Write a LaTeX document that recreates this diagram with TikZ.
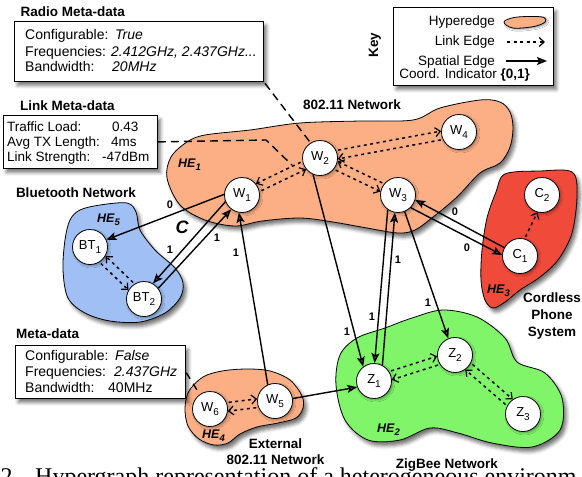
\documentclass[tikz,border=0pt]{standalone}
\usepackage{fontspec}
\setmainfont{Liberation Sans}
\newfontfamily\capfont{Liberation Serif}
\usetikzlibrary{arrows.meta,shadows.blur}
\definecolor{heA}{RGB}{252,174,133}
\definecolor{heB}{RGB}{160,192,245}
\definecolor{heC}{RGB}{240,74,58}
\definecolor{heD}{RGB}{128,245,106}
\newcommand\sbs[1]{\raisebox{-0.32em}{\fontsize{10}{10}\selectfont #1}}
\newcommand\hesub[1]{\raisebox{-0.3em}{\fontsize{9.5}{10}\selectfont #1}}
\newcommand\pairR[3]{%
  \pgfmathtruncatemacro\angA{#3-14}\pgfmathtruncatemacro\angB{#3+194}%
  \draw[link] (#1.\angA) -- (#2.\angB);
  \pgfmathtruncatemacro\angA{#3+14}\pgfmathtruncatemacro\angB{#3+166}%
  \draw[link] (#2.\angB) -- (#1.\angA);}
\newcommand\pairL[3]{%
  \pgfmathtruncatemacro\angA{#3+14}\pgfmathtruncatemacro\angB{#3+166}%
  \draw[link] (#1.\angA) -- (#2.\angB);
  \pgfmathtruncatemacro\angA{#3-14}\pgfmathtruncatemacro\angB{#3+194}%
  \draw[link] (#2.\angB) -- (#1.\angA);}
\tikzset{
  nd/.style={circle,draw,line width=0.8pt,fill=white,minimum size=35pt,inner sep=0pt,
    font=\fontsize{13}{13}\selectfont,
    blur shadow={shadow xshift=1.5pt,shadow yshift=-1.5pt,shadow blur radius=2pt,shadow opacity=35}},
  blob/.style={draw,line width=0.8pt,
    blur shadow={shadow xshift=3pt,shadow yshift=-4pt,shadow blur radius=3.5pt,shadow opacity=55}},
  sp/.style={line width=1.4pt,-{Stealth[length=10pt,width=8pt,inset=2pt]}},
  link/.style={line width=1.5pt,dash pattern=on 3pt off 3.5pt,shorten <=2pt,
    -{Straight Barb[length=5pt,width=9pt,line width=1.2pt]}},
  dline/.style={line width=1.4pt,dash pattern=on 8pt off 5pt},
  box/.style={draw,line width=0.8pt,fill=white,inner sep=0pt,
    blur shadow={shadow xshift=3pt,shadow yshift=-4pt,shadow blur radius=3.5pt,shadow opacity=55}},
  lab/.style={font=\bfseries\fontsize{13.5}{14}\selectfont,inner sep=0pt},
  txt/.style={font=\fontsize{14}{14}\selectfont,inner sep=0pt,anchor=base west},
  stxt/.style={font=\fontsize{13.5}{14}\selectfont,inner sep=0pt,anchor=base west},
  ktxt/.style={font=\fontsize{13.5}{14}\selectfont,inner sep=0pt,anchor=base east},
  num/.style={font=\bfseries\fontsize{11}{11}\selectfont,inner sep=0pt},
  helab/.style={font=\bfseries\itshape\fontsize{12.5}{13}\selectfont,inner sep=0pt,anchor=base west},
  captxt/.style={anchor=base west,inner sep=0pt,font=\capfont\fontsize{24}{24}\selectfont}
}
\begin{document}
\begin{tikzpicture}[x=1pt,y=-1pt]
\useasboundingbox (0,0) rectangle (582,477);
\clip (0,0) rectangle (582,477);

% hyperedges
\path[blob,fill=heA] plot[smooth cycle,tension=0.55] coordinates {(167,178) (171,157) (187,142) (205,135) (250,130) (300,123) (360,121) (413,120) (440,108) (480,100) (500,102) (510,112) (513,128) (510,147) (500,163) (480,173) (457,197) (433,217) (415,230) (398,233) (367,228) (333,222) (300,218) (262,221) (235,226) (205,220) (180,205)};
\path[blob,fill=heB] plot[smooth cycle,tension=0.55] coordinates {(80,210) (100,205) (127,203) (136,212) (140,230) (155,250) (175,268) (183,283) (180,298) (165,313) (140,322) (110,321) (85,313) (68,298) (63,270) (65,240) (70,220)};
\path[blob,fill=heC] plot[smooth cycle,tension=0.55] coordinates {(505,174) (540,171) (572,172) (577,195) (572,233) (558,260) (540,277) (520,290) (505,302) (493,308) (485,300) (481,280) (482,250) (487,218) (496,192)};
\path[blob,fill=heD] plot[smooth cycle,tension=0.55] coordinates {(443,310) (477,317) (505,338) (517,362) (545,373) (562,398) (560,430) (532,447) (492,443) (458,433) (430,428) (400,440) (368,440) (345,420) (336,385) (340,355) (357,338) (385,328) (412,318)};
\path[blob,fill=heA] plot[smooth cycle,tension=0.55] coordinates {(203,377) (222,371) (247,369) (270,371) (290,380) (302,396) (303,408) (296,418) (278,423) (257,427) (240,434) (228,443) (214,445) (199,439) (188,426) (185,408) (189,391)};

% hyperedge labels
\node[helab] (he1) at (178,167) {HE\hesub{1}};
\node[helab] (he5) at (97,222) {HE\hesub{5}};
\node[helab] (he3) at (487,293) {HE\hesub{3}};
\node[helab] (he2) at (377,432) {HE\hesub{2}};
\node[helab] (he4) at (202,438) {HE\hesub{4}};

% nodes
\node[nd] (W1) at (242,195) {W\sbs{1}};
\node[nd] (W2) at (320,158) {W\sbs{2}};
\node[nd] (W3) at (398,195) {W\sbs{3}};
\node[nd] (W4) at (459,132) {W\sbs{4}};
\node[nd] (BT1) at (90,247) {BT\sbs{1}};
\node[nd] (BT2) at (144,299) {BT\sbs{2}};
\node[nd] (C1) at (520,256) {C\sbs{1}};
\node[nd] (C2) at (542,195) {C\sbs{2}};
\node[nd] (W5) at (275,401) {W\sbs{5}};
\node[nd] (W6) at (210,409) {W\sbs{6}};
\node[nd] (Z1) at (374,381) {Z\sbs{1}};
\node[nd] (Z2) at (455,355) {Z\sbs{2}};
\node[nd] (Z3) at (523,414) {Z\sbs{3}};

% link edges
\pairR{W1}{W2}{25}
\pairR{W2}{W3}{-25}
\pairL{W2}{W4}{11}
\pairR{BT1}{BT2}{-44}
\pairL{W6}{W5}{7}
\pairL{Z1}{Z2}{18}
\pairL{Z2}{Z3}{-41}
\draw[link] (C1.75) -- (C2.-105);

% spatial edges
\draw[sp] (W1.178) -- (BT1.24);
\draw[sp] (W1.202) -- (BT2.60);
\draw[sp] (BT2.37) -- (W1.233);
\draw[sp] (W5.114) -- (W1.-100);
\draw[sp] (W2.-113) -- (Z1.127);
\draw[sp] (W3.-125) -- (Z1.88);
\draw[sp] (Z1.62) -- (W3.-100);
\draw[sp] (W3.-68) -- (Z2.112);
\draw[sp] (C1.152) -- (W3.-16);
\draw[sp] (W3.-45) -- (C1.177);
\draw[sp] (W5.8) -- (Z1.200);

% coordination indicators
\node[num] (n1) at (170,205) {0};
\node[num] (n2) at (170,250) {1};
\node[num] (n3) at (217,238) {1};
\node[num] (n4) at (236,253) {1};
\node[num] (n5) at (347,332) {1};
\node[num] (n6) at (372,317) {1};
\node[num] (n7) at (398,260) {1};
\node[num] (n8) at (428,303) {1};
\node[num] (n9) at (455,212) {0};
\node[num] (n10) at (467,248) {0};
\node[font=\bfseries\itshape\fontsize{18}{18}\selectfont,inner sep=0pt] (cl) at (182,227) {C};

% network labels
\node[lab,anchor=base] (net1) at (352,109) {802.11 Network};
\node[lab,anchor=base] (net2) at (76,197) {Bluetooth Network};
\node[lab,anchor=base] (net3a) at (275.5,448.5) {External};
\node[lab,anchor=base] (net3b) at (275.5,464.5) {802.11 Network};
\node[lab,anchor=base] (net4) at (447,468) {ZigBee Network};
\node[lab,anchor=base] (net5a) at (552,302) {Cordless};
\node[lab,anchor=base] (net5b) at (552,319) {Phone};
\node[lab,anchor=base] (net5c) at (552,336) {System};

% radio meta-data box
\node[lab,anchor=base west] (radiot) at (20.5,16) {Radio Meta-data};
\node[box,minimum width=249pt,minimum height=60pt,anchor=north west] (radio) at (14,21) {};
\node[txt] (r1) at (25,39.5) {Configurable:};
\node[txt] (r1v) at (115,39.5) {\itshape True};
\node[txt] (r2) at (25,56.5) {Frequencies:};
\node[txt] (r2v) at (111,56.5) {\itshape 2.412GHz, 2.437GHz...};
\node[txt] (r3) at (25,71.5) {Bandwidth:};
\node[txt] (r3v) at (112,71.5) {\itshape 20MHz};
\draw[dline,shorten <=2pt] (radio.south east) -- (W2.122);

% link meta-data box
\node[lab,anchor=base west] (linkt) at (20,110) {Link Meta-data};
\node[box,minimum width=154pt,minimum height=53pt,anchor=north west] (link) at (3,115) {};
\node[stxt] (l1) at (7,131) {Traffic Load:};
\node[stxt] (l1v) at (112,131) {0.43};
\node[stxt] (l2) at (7,146.5) {Avg TX Length:};
\node[stxt] (l2v) at (111,146.5) {4ms};
\node[stxt] (l3) at (7,161) {Link Strength:};
\node[stxt] (l3v) at (102,161) {-47dBm};
\coordinate (lkb) at (266,140);
\coordinate (lke) at (292,165);
\draw[dline] (link.east) -- (lkb) -- (lke);

% meta-data box (external)
\node[lab,anchor=base west] (metat) at (16,338.5) {Meta-data};
\node[box,minimum width=170pt,minimum height=53pt,anchor=north west] (meta) at (15,345) {};
\node[txt] (m1) at (25,360) {Configurable:};
\node[txt] (m1v) at (115,360) {\itshape False};
\node[txt] (m2) at (25,376) {Frequencies:};
\node[txt] (m2v) at (114,376) {\itshape 2.437GHz};
\node[txt] (m3) at (25,392) {Bandwidth:};
\node[txt] (m3v) at (108,392) {40MHz};
\draw[dline,dash pattern=on 7pt off 6pt,shorten <=1pt] (meta.east) -- (W6.125);

% key
\node[box,minimum width=160pt,minimum height=78pt,anchor=north west] (key) at (393,7) {};
\node[lab,rotate=90] (keyt) at (375,45) {Key};
\node[ktxt] (k1) at (495,25) {Hyperedge};
\node[ktxt] (k2) at (495,45.5) {Link Edge};
\node[ktxt] (k3) at (495,65) {Spatial Edge};
\node[ktxt] (k4) at (530,78.5) {Coord. Indicator \textbf{\{0,1\}}};
\path[draw,line width=0.8pt,fill=heA,blur shadow={shadow xshift=1.5pt,shadow yshift=-1.5pt,shadow blur radius=1.5pt,shadow opacity=35}] plot[smooth cycle,tension=0.6] coordinates {(504,22) (514,17.5) (532,16.5) (544,17.5) (545,22) (534,26.5) (513,28)};
\coordinate (ka1) at (507,42);
\coordinate (kb1) at (545,42);
\draw[link,shorten <=0pt] (ka1) -- (kb1);
\coordinate (ka2) at (506,61);
\coordinate (kb2) at (547,61);
\draw[sp] (ka2) -- (kb2);

% caption (cut off by the picture edge)
\node[captxt] (capn) at (0.5,484) {2.};
\node[captxt] (capt) at (35,484) {Hypergraph representation of a heterogeneous environm};
\end{tikzpicture}
\end{document}
